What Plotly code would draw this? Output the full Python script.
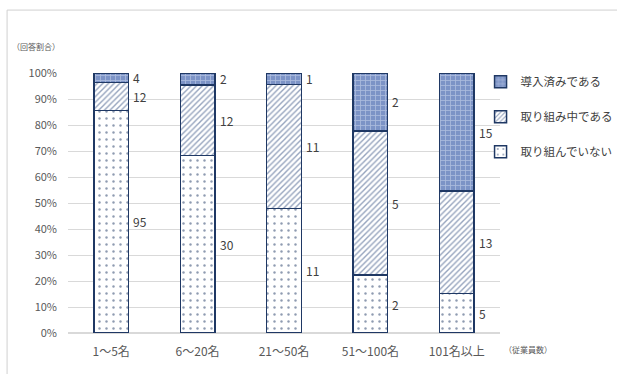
import plotly.graph_objects as go

categories = ["1～5名", "6～20名", "21～50名", "51～100名", "101名以上"]
not_started = [95, 30, 11, 2, 5]
in_progress = [12, 12, 11, 5, 13]
introduced = [4, 2, 1, 2, 15]
series_names = ["取り組んでいない", "取り組み中である", "導入済みである"]

FONT = "Noto Sans CJK JP"
NAVY = "#1F3864"
TEXT = "#595959"

totals = [a + b + c for a, b, c in zip(not_started, in_progress, introduced)]
counts = [not_started, in_progress, introduced]
shares = [[v / t * 100 for v, t in zip(s, totals)] for s in counts]

patterns = [
    dict(shape=".", fgcolor=NAVY, bgcolor="white", size=7, solidity=0.1),
    dict(shape="/", fgcolor="#2E4A7D", bgcolor="white", size=4, solidity=0.35),
    dict(shape="+", fgcolor="#DCE4F4", bgcolor="#7C93C6", size=5, solidity=0.3),
]

fig = go.Figure()
for i, name in enumerate(series_names):
    fig.add_trace(go.Bar(
        x=categories, y=shares[i], name=name, legendgroup=name,
        legendrank=3 - i,
        marker=dict(color="white", pattern=patterns[i],
                    line=dict(color=NAVY, width=1.5)),
        width=0.4, hoverinfo="skip",
    ))

# count labels beside each segment
annotations = []
for ci, cat in enumerate(categories):
    base = 0.0
    for si in range(3):
        h = shares[si][ci]
        annotations.append(dict(
            x=cat, y=base + h / 2, xref="x", yref="y", text=str(counts[si][ci]),
            showarrow=False, xanchor="left", xshift=20,
            font=dict(family=FONT, size=12, color="#404040"),
        ))
        base += h

annotations.append(dict(
    x=-0.135, y=1.1, xref="paper", yref="paper", text="（回答割合）",
    showarrow=False, xanchor="left", yanchor="middle",
    font=dict(family=FONT, size=8, color=TEXT),
))
annotations.append(dict(
    x=1.005, y=-0.065, xref="paper", yref="paper", text="（従業員数）",
    showarrow=False, xanchor="left", yanchor="middle",
    font=dict(family=FONT, size=8, color=TEXT),
))

fig.update_layout(
    barmode="stack",
    width=617, height=374,
    margin=dict(l=68, r=117, t=73, b=41, autoexpand=False),
    paper_bgcolor="white", plot_bgcolor="white",
    font=dict(family=FONT, color=TEXT),
    annotations=annotations,
    showlegend=True,
    legend=dict(
        x=0.955, y=1.022, xanchor="left", yanchor="top",
        traceorder="grouped", tracegroupgap=16,
        font=dict(family=FONT, size=11.5, color="#404040"),
        bgcolor="rgba(0,0,0,0)", itemwidth=30,
    ),
    shapes=[dict(
        type="rect", xref="paper", yref="paper",
        x0=-0.141, x1=1.6, y0=-0.16, y1=1.242,
        line=dict(color="#D0D0D0", width=1), layer="below",
    )],
)
fig.update_xaxes(
    range=[-0.5, 4.5], showgrid=False, showline=False, ticks="",
    tickfont=dict(family=FONT, size=12, color=TEXT), ticklabelstandoff=10,
)
fig.update_yaxes(
    range=[0, 100], dtick=10, ticksuffix="%", showgrid=True,
    gridcolor="#D9D9D9", gridwidth=1, zeroline=True, zerolinecolor="#D9D9D9",
    showline=False, tickfont=dict(family=FONT, size=11, color=TEXT),
    ticklabelstandoff=10,
)

fig.write_html("out.html")
